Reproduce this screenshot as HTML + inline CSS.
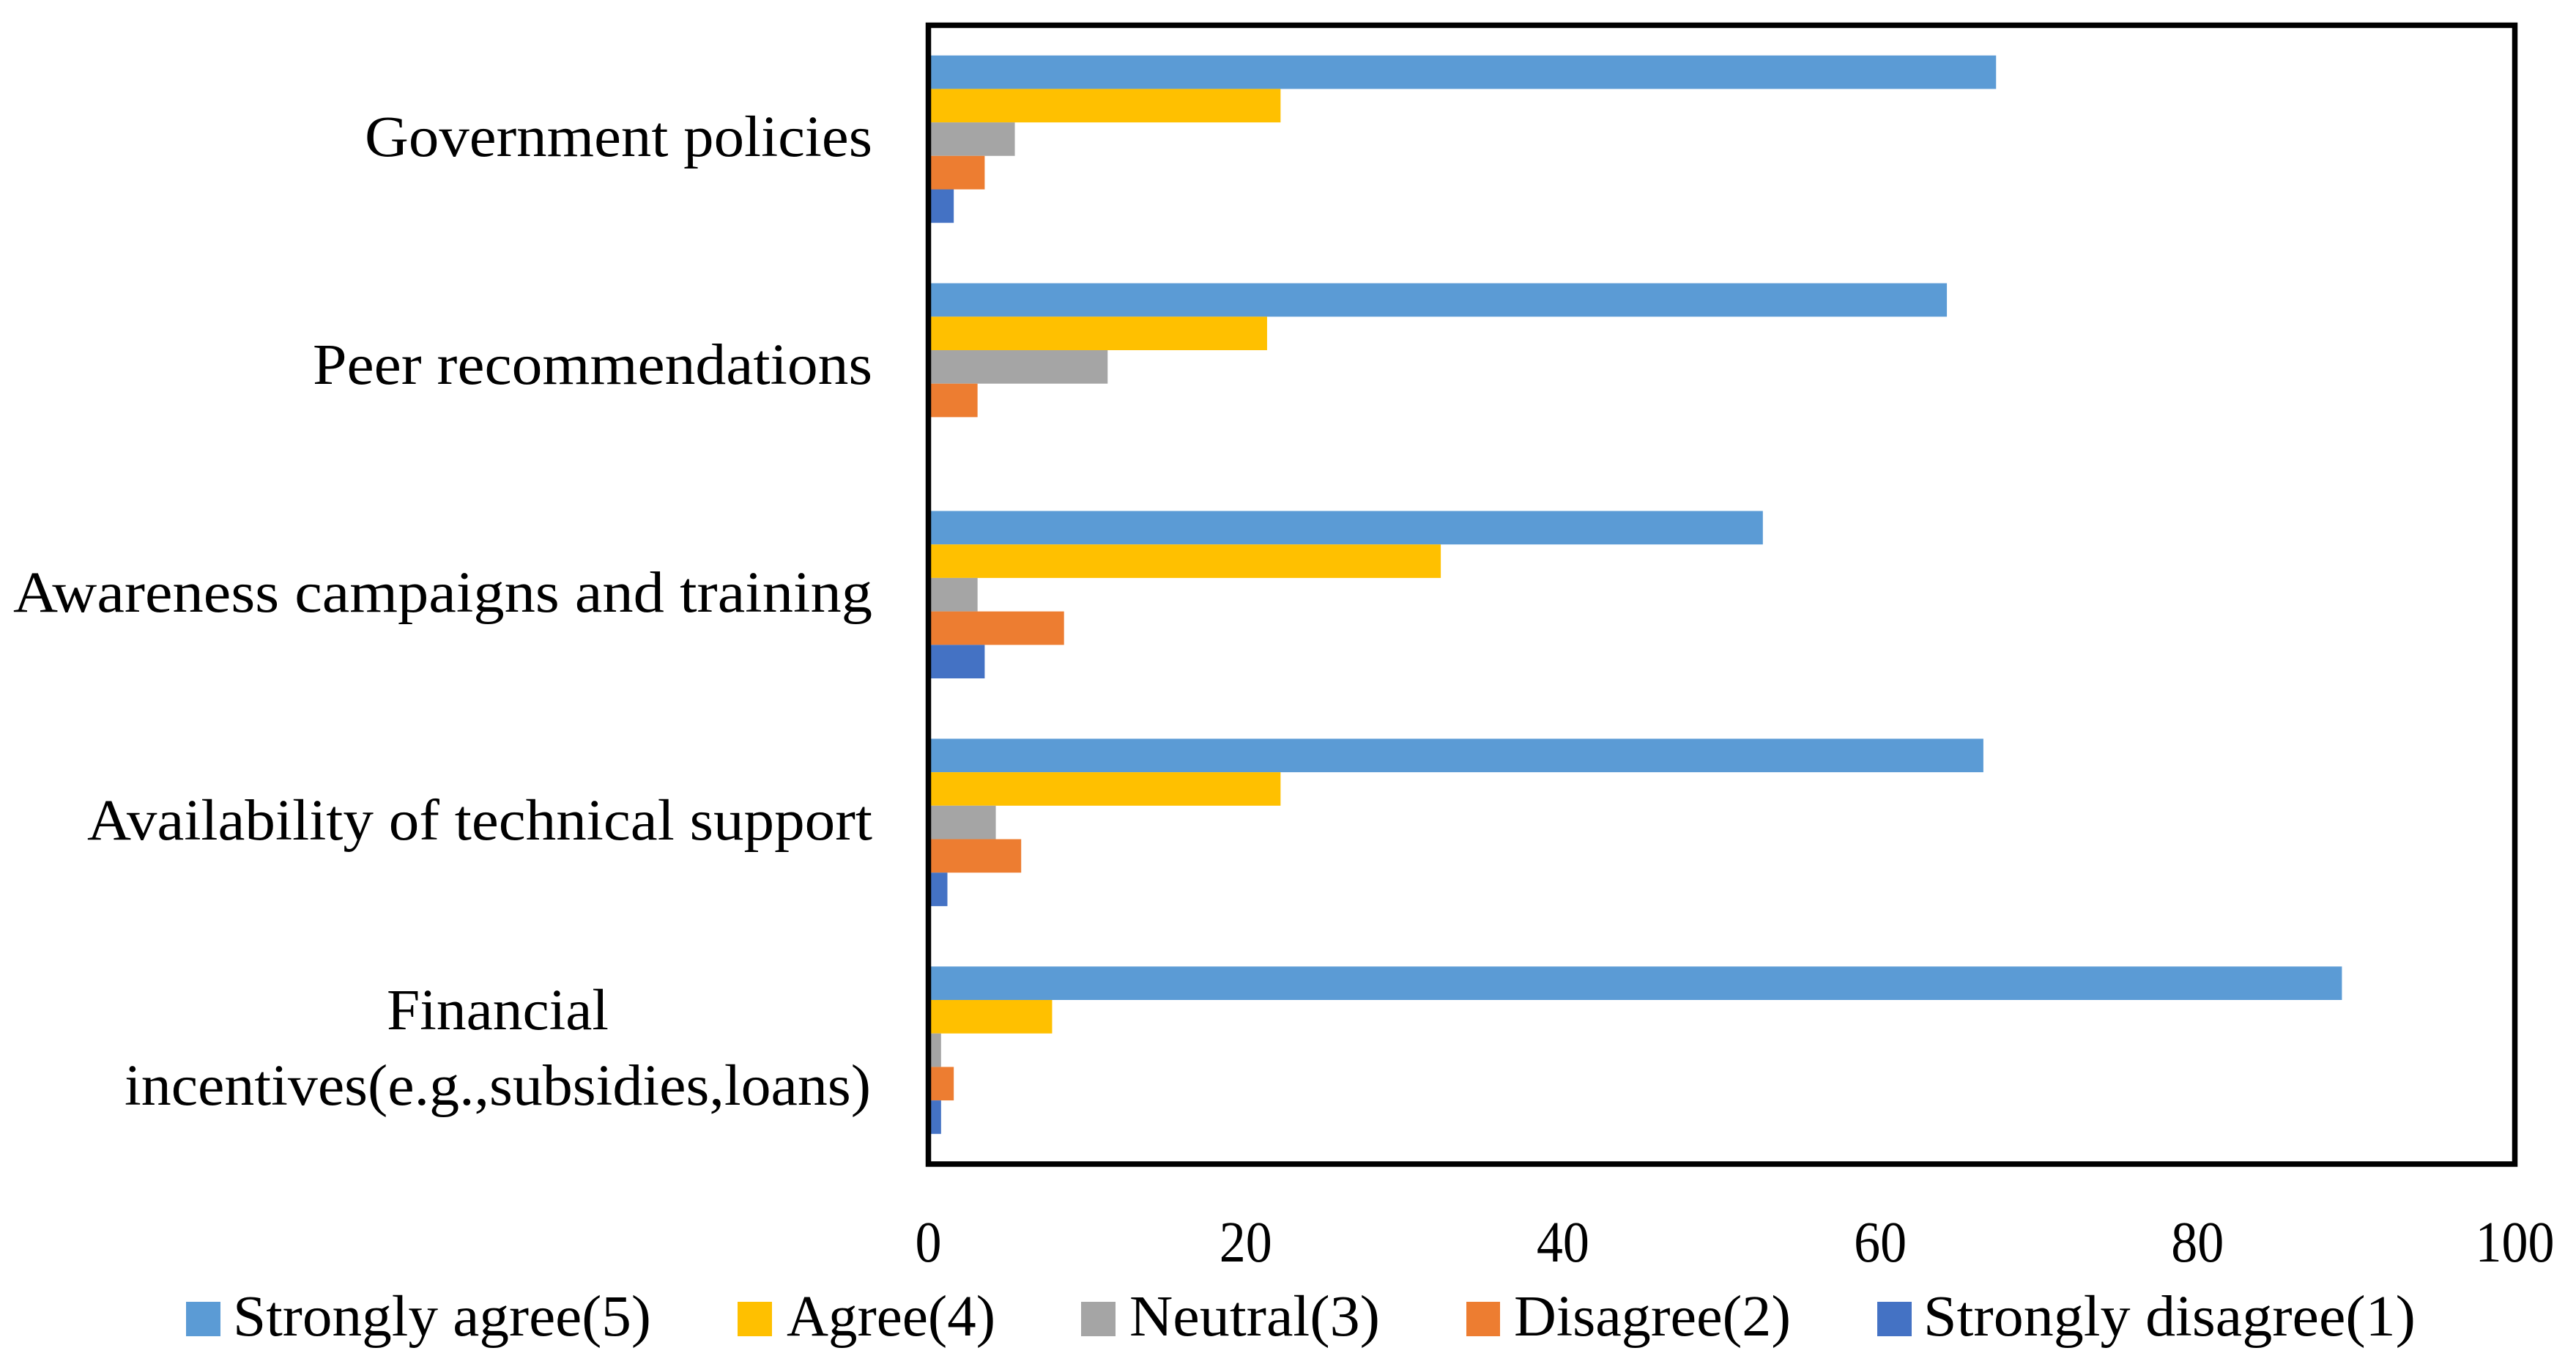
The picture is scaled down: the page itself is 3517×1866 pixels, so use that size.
<!DOCTYPE html>
<html lang="en">
<head>
<meta charset="utf-8">
<title>Factors chart</title>
<style>
html,body{margin:0;padding:0;background:#fff;width:3517px;height:1866px;overflow:hidden}
svg{display:block}
text{font-family:"Liberation Serif","Noto Serif CJK SC",serif;font-size:79px;fill:#000}
</style>
</head>
<body>
<svg id="chart" xmlns="http://www.w3.org/2000/svg" width="3517" height="1866" viewBox="0 0 3517 1866">
  <rect x="0" y="0" width="3517" height="1866" fill="#ffffff"/>
  <g id="bars"></g>
  <rect x="1267.5" y="34.5" width="2166" height="1554.5" fill="none" stroke="#000" stroke-width="7.5"/>
  <g>
    <text x="498" y="213" textLength="693" lengthAdjust="spacingAndGlyphs">Government policies</text>
    <text x="427" y="524" textLength="764" lengthAdjust="spacingAndGlyphs">Peer recommendations</text>
    <text x="18" y="835" textLength="1173" lengthAdjust="spacingAndGlyphs">Awareness campaigns and training</text>
    <text x="119" y="1146" textLength="1072" lengthAdjust="spacingAndGlyphs">Availability of technical support</text>
    <text x="528" y="1405" textLength="303" lengthAdjust="spacingAndGlyphs">Financial</text>
    <text x="170" y="1508" textLength="1019" lengthAdjust="spacingAndGlyphs">incentives(e.g.,subsidies,loans)</text>
  </g>
  <g id="ticks"></g>
  <g>
    <g>
      <rect x="254" y="1777" width="47" height="47" fill="#5B9BD5"/>
      <text x="318" y="1823" textLength="571" lengthAdjust="spacingAndGlyphs">Strongly agree(5)</text>
    </g>
    <g>
      <rect x="1007" y="1777" width="47" height="47" fill="#FFC000"/>
      <text x="1074" y="1823" textLength="285" lengthAdjust="spacingAndGlyphs">Agree(4)</text>
    </g>
    <g>
      <rect x="1476" y="1777" width="47" height="47" fill="#A5A5A5"/>
      <text x="1542" y="1823" textLength="342" lengthAdjust="spacingAndGlyphs">Neutral(3)</text>
    </g>
    <g>
      <rect x="2002" y="1777" width="46" height="47" fill="#ED7D31"/>
      <text x="2067" y="1823" textLength="378" lengthAdjust="spacingAndGlyphs">Disagree(2)</text>
    </g>
    <g>
      <rect x="2563" y="1777" width="47" height="47" fill="#4472C4"/>
      <text x="2626" y="1823" textLength="672" lengthAdjust="spacingAndGlyphs">Strongly disagree(1)</text>
    </g>
  </g>
</svg>
<script>
const categories = ['government-policies', 'peer-recommendations', 'awareness-campaigns', 'technical-support', 'financial-incentives'];
const stronglyAgree = [67.3, 64.2, 52.6, 66.5, 89.1];
const agree = [22.2, 21.35, 32.3, 22.2, 7.8];
const neutral = [5.45, 11.3, 3.1, 4.25, 0.8];
const disagree = [3.55, 3.1, 8.55, 5.85, 1.6];
const stronglyDisagree = [1.6, 0, 3.55, 1.2, 0.8];
const tickLabels = [0, 20, 40, 60, 80, 100];

const NS = 'http://www.w3.org/2000/svg';
const plot = { left: 1267.5, right: 3433.5, top: 34.5, bottom: 1589 };
const axisMax = 100;
const barHeight = 45.7;
const series = [
  { name: 'strongly-agree', values: stronglyAgree, color: '#5B9BD5' },
  { name: 'agree', values: agree, color: '#FFC000' },
  { name: 'neutral', values: neutral, color: '#A5A5A5' },
  { name: 'disagree', values: disagree, color: '#ED7D31' },
  { name: 'strongly-disagree', values: stronglyDisagree, color: '#4472C4' }
];
function xScale(v) { return plot.left + (v / axisMax) * (plot.right - plot.left); }
function groupCenter(i) {
  const band = (plot.bottom - plot.top) / categories.length;
  return plot.top + band * (i + 0.5);
}
const barsGroup = document.getElementById('bars');
categories.forEach(function (cat, i) {
  series.forEach(function (s, j) {
    const value = s.values[i];
    if (!value) return;
    const r = document.createElementNS(NS, 'rect');
    
    
    r.setAttribute('x', plot.left);
    r.setAttribute('y', groupCenter(i) + (j - series.length / 2) * barHeight);
    r.setAttribute('width', xScale(value) - plot.left);
    r.setAttribute('height', barHeight);
    r.setAttribute('fill', s.color);
    barsGroup.appendChild(r);
  });
});
const ticksGroup = document.getElementById('ticks');
tickLabels.forEach(function (t) {
  const label = String(t);
  const width = label.length * 36;
  const el = document.createElementNS(NS, 'text');
  
  
  el.setAttribute('x', xScale(t) - width / 2);
  el.setAttribute('y', 1722);
  el.setAttribute('textLength', width);
  el.setAttribute('lengthAdjust', 'spacingAndGlyphs');
  el.textContent = label;
  ticksGroup.appendChild(el);
});
</script>
</body>
</html>
